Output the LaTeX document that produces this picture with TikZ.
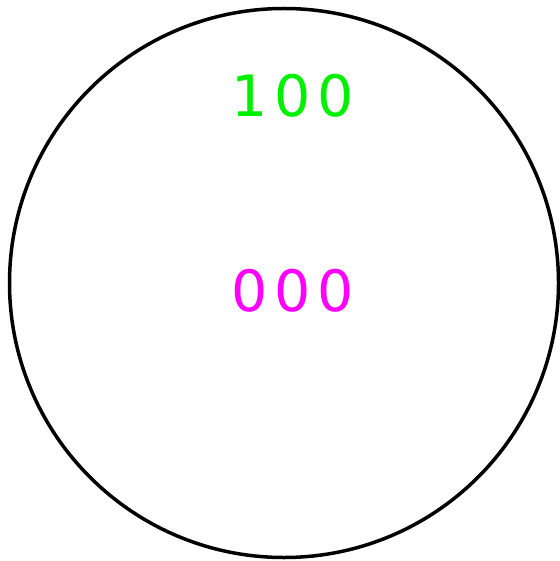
\documentclass[tikz,border=0pt]{standalone}
\usepackage{fontspec}
\newfontfamily\lblfont[LetterSpace=12]{DejaVu Sans}
\begin{document}
\begin{tikzpicture}[x=1pt,y=-1pt,
  lbl/.style={font=\lblfont\fontsize{57}{60}\selectfont, inner sep=0pt, anchor=center}]
\useasboundingbox (0,0) rectangle (559,561);
\node[draw=black, line width=3.5pt, circle, minimum size=549pt, inner sep=0pt] (c) at (284,283) {};
\definecolor{lgreen}{RGB}{0,240,0}
\definecolor{lmag}{RGB}{255,0,255}
\node[lbl, text=lgreen] (a) at (293,96) {100};
\node[lbl, text=lmag] (b) at (293,291) {000};
\end{tikzpicture}
\end{document}
